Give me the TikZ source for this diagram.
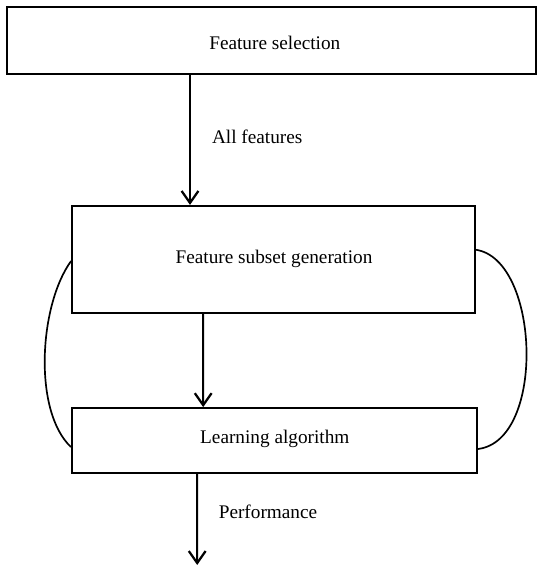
\documentclass[tikz,border=0pt]{standalone}
\usepackage{fontspec}
\newfontfamily\timesfont{Liberation Serif}
\usetikzlibrary{arrows.meta}
\begin{document}
\begin{tikzpicture}[x=1cm,y=1cm,>={Straight Barb[length=3mm,width=4.2mm,line width=1.6pt]}]
\tikzset{
    stage/.style={draw,line width=1.4pt,inner sep=0pt},
    lbl/.style={font=\timesfont\fontsize{13.7}{16}\selectfont,inner sep=1pt},
    flow/.style={->,line width=1.4pt},
    loop/.style={line width=1.2pt}
}
\useasboundingbox (0,0) rectangle (13.425,14.175);
\node[stage,minimum width=13.225cm,minimum height=1.675cm] (select) at (6.79,13.16) {};
\node[lbl] at (6.87,13.1) {Feature selection};
\node[stage,minimum width=10.075cm,minimum height=2.675cm] (gen) at (6.84,7.69) {};
\node[lbl] at (6.85,7.7) {Feature subset generation};
\node[stage,minimum width=10.125cm,minimum height=1.625cm] (learn) at (6.86,3.16) {};
\node[lbl] at (6.87,3.2) {Learning algorithm};
\coordinate (out) at (4.93,0.05);

\draw[flow] ([xshift=-2.04cm]select.south) -- ([xshift=-2.09cm]gen.north);
\node[lbl] (allf) at (6.43,10.75) {All features};
\draw[flow] ([xshift=-1.76cm]gen.south) -- ([xshift=-1.78cm]learn.north);
\draw[flow] ([xshift=-1.93cm]learn.south) -- (out);
\node[lbl] (perf) at (6.7,1.375) {Performance};

% feedback between generation and learning
\draw[loop] ([yshift=-0.04cm]gen.west) .. controls +(-0.8,-1.1) and +(-0.95,0.9) .. ([yshift=-0.16cm]learn.west);
\draw[loop] ([yshift=0.24cm]gen.east) .. controls +(1.6,-0.25) and +(1.7,0.2) .. ([yshift=-0.21cm]learn.east);
\end{tikzpicture}
\end{document}
